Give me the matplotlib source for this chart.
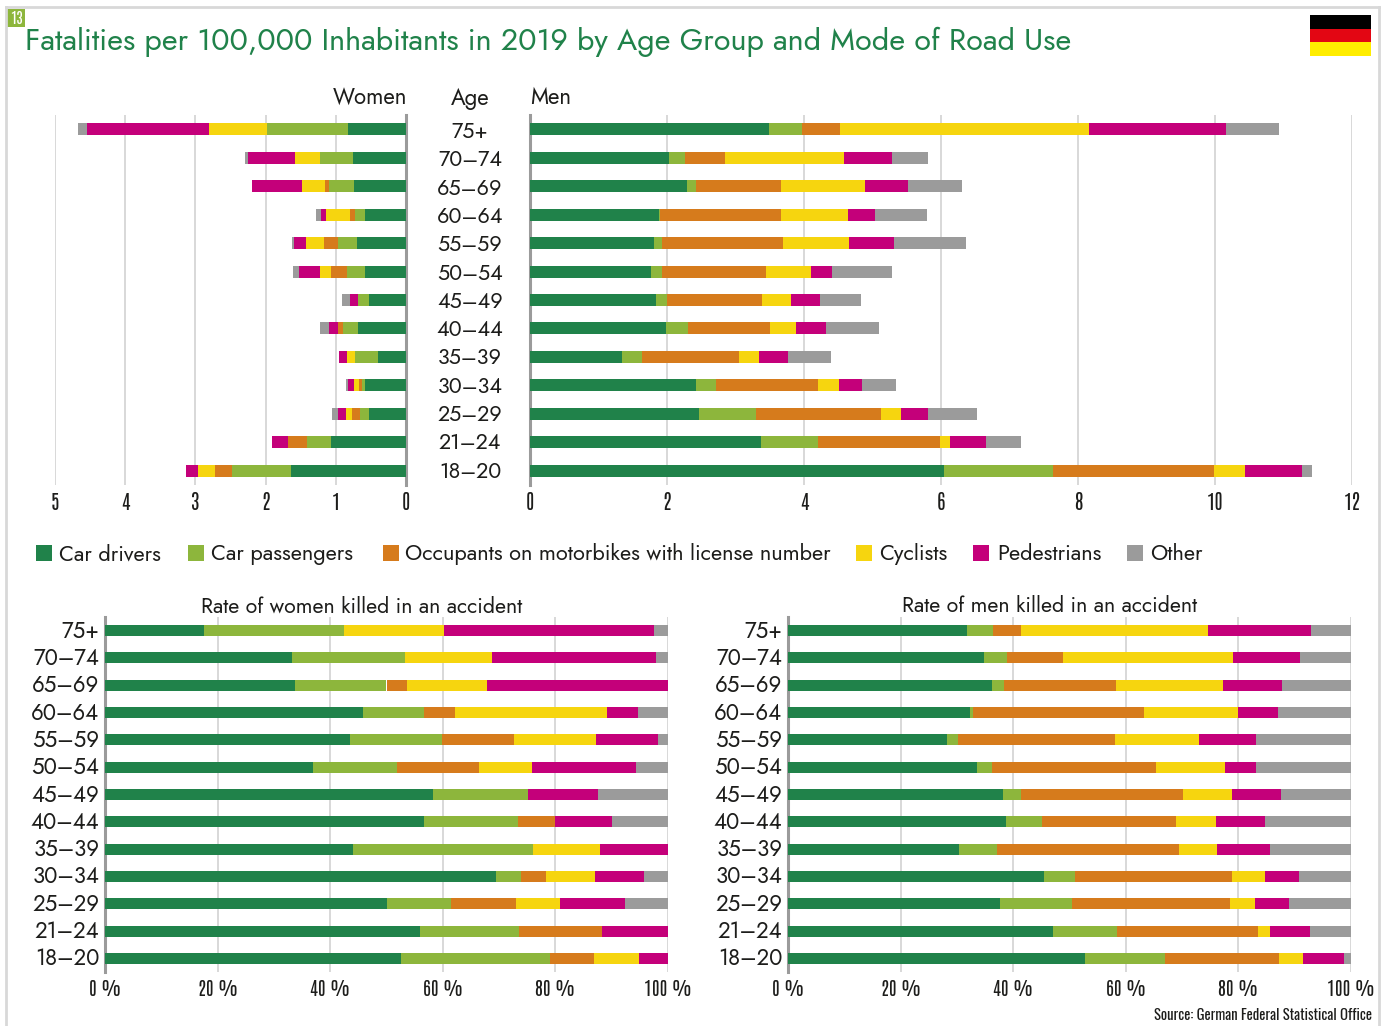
import matplotlib
matplotlib.use("Agg")
import matplotlib.pyplot as plt
import numpy as np
from matplotlib.lines import Line2D
from matplotlib.patches import Rectangle
from matplotlib.transforms import ScaledTranslation

W, H = 1386, 1026

ages = ["75+", "70–74", "65–69", "60–64", "55–59", "50–54", "45–49",
        "40–44", "35–39", "30–34", "25–29", "21–24", "18–20"]
modes = ["Car drivers", "Car passengers", "Occupants on motorbikes with license number",
         "Cyclists", "Pedestrians", "Other"]
colors = ["#20824a", "#8db63c", "#d67b1c", "#f6d50f", "#c4007a", "#9b9b9b"]

# per 100,000 inhabitants, columns in the order of modes
women_rate = [
    [0.82, 1.155, 0, 0.835, 1.74, 0.12],
    [0.755, 0.465, 0, 0.36, 0.665, 0.055],
    [0.735, 0.355, 0.07, 0.325, 0.705, 0],
    [0.58, 0.145, 0.07, 0.345, 0.07, 0.07],
    [0.70, 0.275, 0.195, 0.25, 0.17, 0.03],
    [0.59, 0.25, 0.23, 0.15, 0.30, 0.09],
    [0.525, 0.155, 0, 0, 0.115, 0.11],
    [0.69, 0.205, 0.08, 0, 0.125, 0.12],
    [0.405, 0.315, 0, 0.115, 0.115, 0],
    [0.59, 0.035, 0.04, 0.075, 0.085, 0.03],
    [0.525, 0.125, 0.115, 0.09, 0.12, 0.085],
    [1.065, 0.34, 0.28, 0, 0.22, 0],
    [1.645, 0.83, 0.25, 0.245, 0.17, 0],
]
men_rate = [
    [3.49, 0.48, 0.56, 3.63, 2.00, 0.78],
    [2.03, 0.24, 0.57, 1.75, 0.70, 0.52],
    [2.29, 0.13, 1.25, 1.22, 0.63, 0.79],
    [1.88, 0.02, 1.76, 0.98, 0.39, 0.76],
    [1.81, 0.11, 1.78, 0.95, 0.66, 1.06],
    [1.76, 0.16, 1.53, 0.65, 0.31, 0.88],
    [1.84, 0.16, 1.39, 0.42, 0.42, 0.60],
    [1.98, 0.32, 1.21, 0.38, 0.43, 0.78],
    [1.34, 0.29, 1.42, 0.30, 0.41, 0.64],
    [2.42, 0.30, 1.48, 0.31, 0.33, 0.50],
    [2.46, 0.84, 1.82, 0.30, 0.39, 0.71],
    [3.37, 0.83, 1.78, 0.15, 0.52, 0.52],
    [6.04, 1.59, 2.35, 0.46, 0.83, 0.15],
]
# percent shares
women_share = [
    [17.6, 24.8, 0, 17.8, 37.4, 2.4],
    [33.3, 20.0, 0, 15.5, 29.0, 2.2],
    [33.8, 16.2, 3.6, 14.3, 32.1, 0],
    [45.9, 10.8, 5.4, 27.1, 5.4, 5.4],
    [43.6, 16.3, 12.7, 14.6, 11.0, 1.8],
    [36.9, 14.9, 14.7, 9.4, 18.5, 5.6],
    [58.3, 16.8, 0, 0, 12.4, 12.5],
    [56.6, 16.7, 6.7, 0, 10.0, 10.0],
    [44.0, 32.0, 0, 12.0, 12.0, 0],
    [69.5, 4.4, 4.4, 8.7, 8.8, 4.2],
    [50.0, 11.4, 11.6, 7.8, 11.6, 7.6],
    [55.9, 17.7, 14.7, 0, 11.7, 0],
    [52.5, 26.5, 7.8, 8.0, 5.2, 0],
]
men_share = [
    [31.8, 4.6, 5.0, 33.2, 18.3, 7.1],
    [34.9, 4.0, 10.0, 30.1, 11.9, 9.1],
    [36.3, 2.0, 19.9, 19.1, 10.4, 12.3],
    [32.3, 0.5, 30.5, 16.7, 7.0, 13.0],
    [28.3, 1.9, 27.8, 15.0, 10.2, 16.8],
    [33.5, 2.7, 29.1, 12.4, 5.5, 16.8],
    [38.2, 3.2, 28.8, 8.6, 8.7, 12.5],
    [38.8, 6.3, 23.9, 7.1, 8.7, 15.2],
    [30.4, 6.8, 32.2, 6.8, 9.4, 14.4],
    [45.5, 5.5, 27.8, 6.0, 5.9, 9.3],
    [37.7, 12.8, 28.0, 4.5, 5.9, 11.1],
    [47.0, 11.5, 25.0, 2.2, 7.1, 7.2],
    [52.8, 14.1, 20.4, 4.1, 7.3, 1.3],
]

# first family is the nearest look, the others are fallbacks
SANS = ["Jost", "Lato"]
NARROW = ["Antonio", "Oswald", "Roboto"]
TEXT = "#1d1d1b"


def px_axes(fig, x0, y0, x1, y1):
    # pixel box, y measured from the top like in the picture
    return fig.add_axes([x0 / W, 1 - y1 / H, (x1 - x0) / W, (y1 - y0) / H])


def ftext(fig, x, y, s, **kw):
    fig.text(x / W, 1 - y / H, s, **kw)


def stacked(ax, data, xmax, ticks, labels, bar_px, row_px, pad, tick_size):
    data = np.array(data)
    y = np.arange(len(ages))
    left = np.zeros(len(ages))
    for i, col in enumerate(colors):
        ax.barh(y, data[:, i], left=left, height=bar_px / row_px, color=col, zorder=3)
        left = left + data[:, i]
    ax.set_xlim(0, xmax)
    ax.set_ylim(len(ages) - 0.5, -0.5)
    ax.set_xticks(ticks)
    ax.set_xticklabels(labels, family=NARROW, fontweight="bold", fontsize=tick_size, color=TEXT)
    ax.tick_params(length=0, pad=pad)
    ax.grid(axis="x", color="#d2d2d2", lw=1.2, zorder=0)
    ax.set_axisbelow(True)
    for s in ax.spines.values():
        s.set_visible(False)


fig = plt.figure(figsize=(W / 100, H / 100), dpi=100, facecolor="white")

# frame, open at the bottom
for xs, ys in [((6, 6), (7, H)), ((6, 1379), (7, 7)), ((1379, 1379), (7, H))]:
    fig.add_artist(Line2D([x / W for x in xs], [1 - y / H for y in ys], color="#d8d8d8", lw=2))

# number badge and flag
fig.add_artist(Rectangle((7 / W, 1 - 27 / H), 18 / W, 18 / H, color="#8db63c", lw=0))
ftext(fig, 16, 18, "13", color="white", family=NARROW, fontweight="bold", fontsize=11,
      ha="center", va="center")
for top, col in zip((15, 29, 42), ("#000000", "#e30613", "#ffed00")):
    fig.add_artist(Rectangle((1310 / W, 1 - (top + 14) / H), 61 / W, 14 / H, color=col, lw=0))

ftext(fig, 25, 41.5, "Fatalities per 100,000 Inhabitants in 2019 by Age Group and Mode of Road Use",
      color="#20824a", family=SANS, fontsize=22, ha="left", va="center")

# top pair of charts
ax_w = px_axes(fig, 55, 115, 406, 485)
stacked(ax_w, women_rate, 5, range(6), [str(i) for i in range(6)], 12, 28.46, 5, 14.5)
ax_w.invert_xaxis()
ax_w.set_yticks([])
ax_w.spines["right"].set_visible(True)
ax_w.spines["right"].set_color("#9b9b9b")
ax_w.spines["right"].set_linewidth(2.2)

ax_m = px_axes(fig, 530, 115, 1352, 485)
stacked(ax_m, men_rate, 12, range(0, 13, 2), [str(i) for i in range(0, 13, 2)], 12, 28.46, 5, 14.5)
ax_m.set_yticks([])
ax_m.spines["left"].set_visible(True)
ax_m.spines["left"].set_color("#9b9b9b")
ax_m.spines["left"].set_linewidth(2.2)

ftext(fig, 407, 98, "Women", family=SANS, fontsize=16, color=TEXT, ha="right", va="center")
ftext(fig, 470, 98, "Age", family=SANS, fontsize=16, color=TEXT, ha="center", va="center")
ftext(fig, 530, 98, "Men", family=SANS, fontsize=16, color=TEXT, ha="left", va="center")
for i, age in enumerate(ages):
    ftext(fig, 470, 132 + i * 28.3, age, family=SANS, fontsize=15.5, color=TEXT,
          ha="center", va="center")

# legend
box_x = [36, 188, 383, 856, 973, 1127]
text_x = [59, 211, 405, 879, 997, 1150]
for bx, tx, col, mode in zip(box_x, text_x, colors, modes):
    fig.add_artist(Rectangle((bx / W, 1 - 561 / H), 16 / W, 16 / H, color=col, lw=0))
    ftext(fig, tx, 554, mode, family=SANS, fontsize=15.7, color=TEXT, ha="left", va="center")

# bottom pair of charts
pct_ticks = range(0, 101, 20)
pct_labels = [f"{t} %" for t in pct_ticks]
for box, data, title, tx in [((105, 617, 668, 972), women_share, "Rate of women killed in an accident", 362),
                             ((788, 617, 1351, 972), men_share, "Rate of men killed in an accident", 1050)]:
    ax = px_axes(fig, *box)
    stacked(ax, data, 100, pct_ticks, pct_labels, 11, 27.3, 6, 13.5)
    ax.set_yticks(range(len(ages)))
    ax.set_yticklabels(ages, family=SANS, fontsize=16, color=TEXT)
    ax.tick_params(axis="y", pad=4)
    # Jost sits low in its line box, lift the labels a little
    lift = ScaledTranslation(0, 0.02, fig.dpi_scale_trans)
    for lab in ax.get_yticklabels():
        lab.set_transform(lab.get_transform() + lift)
    ax.spines["left"].set_visible(True)
    ax.spines["left"].set_color("#9b9b9b")
    ax.spines["left"].set_linewidth(2.2)
    ftext(fig, tx, 606, title, family=SANS, fontsize=15.3, color=TEXT, ha="center", va="center")

ftext(fig, 1372, 1015, "Source: German Federal Statistical Office", family=["Oswald", "Roboto"], fontsize=10.5,
      fontweight="light", color=TEXT, ha="right", va="center")

fig.savefig("out.png", dpi=100)
